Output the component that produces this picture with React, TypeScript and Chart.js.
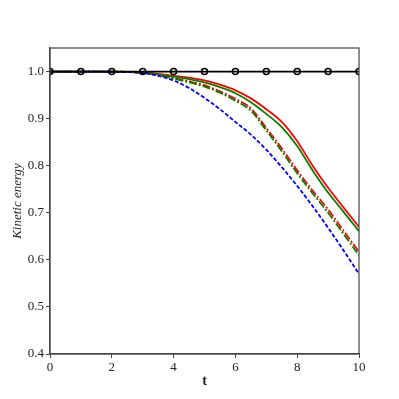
import React, { useEffect, useRef } from "react";
import { Chart, registerables } from "chart.js";

Chart.register(...registerables);

const markerTimes = [0, 1, 2, 3, 4, 5, 6, 7, 8, 9, 10];
const reference = [1, 1, 1, 1, 1, 1, 1, 1, 1, 1, 1];

const times = [0, 0.5, 1, 1.5, 2, 2.5, 3, 3.5, 4, 4.5, 5, 5.5, 6, 6.5, 7, 7.5, 8, 8.5, 9, 9.5, 10];
const redSolid = [1, 1, 1, 1, 1, 0.999, 0.998, 0.995, 0.991, 0.987, 0.981, 0.972, 0.96, 0.943, 0.92, 0.893, 0.852, 0.8, 0.753, 0.711, 0.67];
const greenSolid = [1, 1, 1, 1, 1, 0.999, 0.998, 0.994, 0.989, 0.984, 0.977, 0.967, 0.954, 0.935, 0.91, 0.882, 0.842, 0.79, 0.743, 0.702, 0.661];
const redDashDot = [1, 1, 1, 1, 1, 0.999, 0.997, 0.993, 0.986, 0.979, 0.971, 0.958, 0.942, 0.922, 0.88, 0.837, 0.79, 0.747, 0.707, 0.662, 0.617];
const greenDashDot = [1, 1, 1, 1, 1, 0.999, 0.997, 0.992, 0.985, 0.977, 0.968, 0.955, 0.938, 0.917, 0.875, 0.831, 0.784, 0.741, 0.7, 0.655, 0.61];
const blueDashed = [1, 1, 1, 1, 0.999, 0.999, 0.997, 0.991, 0.981, 0.965, 0.944, 0.92, 0.893, 0.866, 0.834, 0.797, 0.757, 0.714, 0.668, 0.62, 0.57];

const xTicks = [0, 2, 4, 6, 8, 10];
const yTicks = [0.4, 0.5, 0.6, 0.7, 0.8, 0.9, 1.0];

const FONT = "'Liberation Serif', 'DejaVu Serif', serif";

const toXY = (xs: number[], ys: number[]) => ys.map((y, i) => ({ x: xs[i], y }));

export default function App() {
  const ref = useRef<HTMLCanvasElement | null>(null);
  useEffect(() => {
    document.body.style.margin = "0";
    if (!ref.current) return;
    const framePlugin = {
      id: "frame",
      afterDraw(chart: any) {
        const { ctx, chartArea: a } = chart;
        ctx.save();
        ctx.strokeStyle = "#444";
        ctx.lineWidth = 1.2;
        ctx.strokeRect(a.left, a.top, a.right - a.left, a.bottom - a.top);
        ctx.restore();
      },
    };
    const line = (data: number[], color: string, dash: number[], order: number) => ({
      data: toXY(times, data),
      borderColor: color,
      borderWidth: 1.8,
      borderDash: dash,
      pointRadius: 0,
      fill: false,
      cubicInterpolationMode: "monotone" as const,
      order,
    });
    const chart = new Chart(ref.current, {
      type: "line",
      data: {
        datasets: [
          {
            data: toXY(markerTimes, reference),
            borderColor: "#000",
            borderWidth: 1.8,
            pointRadius: 3,
            pointBorderWidth: 1.5,
            pointBorderColor: "#000",
            pointBackgroundColor: "rgba(0,0,0,0)",
            order: 0,
          },
          line(redSolid, "#ff0000", [], 5),
          line(greenSolid, "#008000", [], 4),
          line(redDashDot, "#ff0000", [8, 2, 2, 2], 3),
          line(greenDashDot, "#008000", [8, 2, 2, 2], 2),
          line(blueDashed, "#0000ff", [4, 2], 1),
        ],
      },
      options: {
        animation: false,
        responsive: false,
        layout: { padding: { top: 48, right: 40, left: 0, bottom: 0 } },
        plugins: { legend: { display: false }, tooltip: { enabled: false } },
        scales: {
          x: {
            type: "linear",
            min: 0,
            max: 10,
            afterFit: (s: any) => { s.height = 45; },
            afterBuildTicks: (s: any) => { s.ticks = xTicks.map((v) => ({ value: v })); },
            grid: { drawOnChartArea: false, drawTicks: true, tickLength: 4, color: "#444", tickColor: "#444" },
            border: { color: "#444", width: 1.2 },
            ticks: { color: "#222", font: { family: FONT, size: 13 }, padding: 2, callback: (v: any) => String(v) },
            title: { display: true, text: "t", color: "#222", font: { family: FONT, size: 14, weight: "bold" }, padding: { top: 0, bottom: 9 } },
          },
          y: {
            type: "linear",
            min: 0.4,
            max: 1.05,
            afterFit: (s: any) => { s.width = 50; },
            afterBuildTicks: (s: any) => { s.ticks = yTicks.map((v) => ({ value: v })); },
            grid: { drawOnChartArea: false, drawTicks: true, tickLength: 4, color: "#444", tickColor: "#444" },
            border: { color: "#444", width: 1.2 },
            ticks: { color: "#222", font: { family: FONT, size: 13 }, padding: 2, callback: (v: any) => Number(v).toFixed(1) },
            title: { display: true, text: "Kinetic energy", color: "#222", font: { family: FONT, size: 13, style: "italic" }, padding: { top: 10, bottom: 0 } },
          },
        },
      },
      plugins: [framePlugin],
    });
    return () => chart.destroy();
  }, []);
  return <canvas ref={ref} width={399} height={399} style={{ display: "block", width: 399, height: 399 }} />;
}
